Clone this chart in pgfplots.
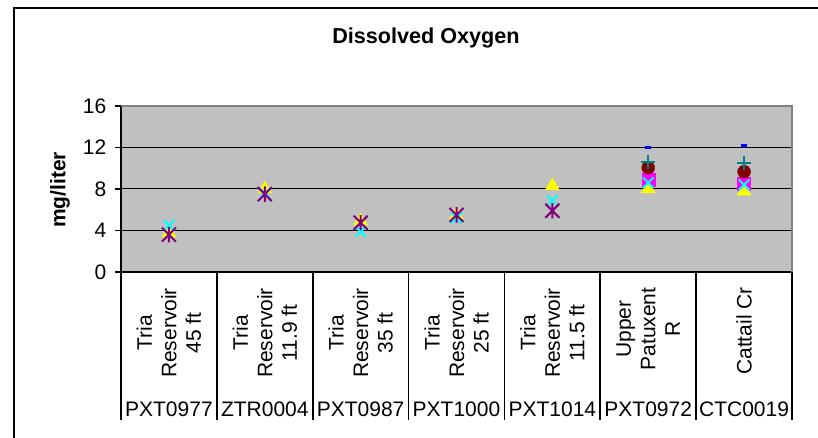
\documentclass[border=0pt]{standalone}
\usepackage{fontspec}
\setmainfont{Liberation Sans}
\usepackage{pgfplots}
\pgfplotsset{compat=1.18}
\definecolor{bggray}{RGB}{192,192,192}
\definecolor{edgegray}{RGB}{128,128,128}
\definecolor{xlpurple}{RGB}{128,0,128}
\definecolor{xldarkred}{RGB}{128,0,0}
\definecolor{xlteal}{RGB}{0,128,128}
\definecolor{xlmagenta}{RGB}{255,0,255}
\definecolor{xlcyan}{RGB}{0,255,255}
\definecolor{xlyellow}{RGB}{255,255,0}
\definecolor{xlblue}{RGB}{0,0,255}
\pgfdeclareplotmark{xstar}{%
  \pgfpathmoveto{\pgfqpoint{-\pgfplotmarksize}{-\pgfplotmarksize}}%
  \pgfpathlineto{\pgfqpoint{\pgfplotmarksize}{\pgfplotmarksize}}%
  \pgfpathmoveto{\pgfqpoint{-\pgfplotmarksize}{\pgfplotmarksize}}%
  \pgfpathlineto{\pgfqpoint{\pgfplotmarksize}{-\pgfplotmarksize}}%
  \pgfpathmoveto{\pgfqpoint{0pt}{-1.1\pgfplotmarksize}}%
  \pgfpathlineto{\pgfqpoint{0pt}{1.1\pgfplotmarksize}}%
  \pgfusepathqstroke}
\newcommand{\lbl}{\fontsize{21bp}{24.5bp}\selectfont}
\begin{document}
\begin{tikzpicture}[x=1bp,y=1bp]
\useasboundingbox (0,0) rectangle (818,438);
\draw[line width=2bp] (14,0) -- (14,430) -- (818,430);
\node[font=\fontsize{21.6bp}{25bp}\selectfont\bfseries] at (426,400) {Dissolved Oxygen};
\node[font=\lbl\bfseries, rotate=90] at (60,248) {mg/liter};
\begin{axis}[
  at={(121bp,166bp)}, anchor=south west,
  width=671bp, height=166bp, scale only axis,
  xmin=0, xmax=7, ymin=0, ymax=16,
  axis x line*=bottom, axis y line*=left,
  axis line style={-, black, line width=2bp},
  axis background/.style={fill=bggray},
  xtick={0,1,...,7}, xticklabels={},
  ytick={0,4,...,16},
  tick align=outside,
  xtick style={black, line width=1.6bp, /pgfplots/major tick length=148bp},
  ytick style={black, line width=1.2bp, /pgfplots/major tick length=6bp},
  ymajorgrids, grid style={black, line width=1bp},
  ticklabel style={font=\lbl},
  /pgf/number format/assume math mode=true,
  yticklabel style={xshift=-7bp},
  clip=false,
]
\addplot[only marks, mark=square*, mark size=6.5bp, color=xlmagenta] coordinates {(5.5,8.85) (6.5,8.5)};
\addplot[only marks, mark=triangle*, mark size=8bp, color=xlyellow] coordinates {(0.5,3.75) (1.5,8.0) (2.5,4.9) (3.5,5.5) (4.5,8.3) (5.5,8.0) (6.5,7.8)};
\addplot[only marks, mark=x, mark size=7.5bp, line width=2bp, color=xlcyan] coordinates {(0.5,4.5) (1.5,7.6) (2.5,3.9) (3.5,5.2) (4.5,6.9) (5.5,8.6) (6.5,8.4)};
\addplot[only marks, mark=xstar, mark size=7bp, line width=2bp, color=xlpurple] coordinates {(0.5,3.6) (1.5,7.5) (2.5,4.75) (3.5,5.5) (4.5,5.9)};
\addplot[only marks, mark=*, mark size=6.5bp, color=xldarkred] coordinates {(5.5,10.05) (6.5,9.67)};
\addplot[only marks, mark=+, mark size=7bp, line width=2bp, color=xlteal] coordinates {(5.5,10.6) (6.5,10.55)};
\addplot[only marks, mark=-, mark size=2.8bp, line width=3bp, color=xlblue] coordinates {(5.5,12.0) (6.5,12.2)};
\draw[edgegray, line width=2bp] (rel axis cs:0,1) -- (rel axis cs:1,1) -- (rel axis cs:1,0);
\node[font=\lbl, rotate=90, align=center] at ([yshift=-61bp]axis cs:0.5,0) {Tria\\Reservoir\\45 ft};
\node[font=\lbl, rotate=90, align=center] at ([yshift=-61bp]axis cs:1.5,0) {Tria\\Reservoir\\11.9 ft};
\node[font=\lbl, rotate=90, align=center] at ([yshift=-61bp]axis cs:2.5,0) {Tria\\Reservoir\\35 ft};
\node[font=\lbl, rotate=90, align=center] at ([yshift=-61bp]axis cs:3.5,0) {Tria\\Reservoir\\25 ft};
\node[font=\lbl, rotate=90, align=center] at ([yshift=-61bp]axis cs:4.5,0) {Tria\\Reservoir\\11.5 ft};
\node[font=\lbl, rotate=90, align=center] at ([yshift=-57bp]axis cs:5.5,0) {Upper\\Patuxent\\R};
\node[font=\lbl, rotate=90, align=center] at ([yshift=-59bp]axis cs:6.5,0) {Cattail Cr};
\node[font=\lbl] at ([yshift=-137bp]axis cs:0.5,0) {PXT0977};
\node[font=\lbl] at ([yshift=-137bp]axis cs:1.5,0) {ZTR0004};
\node[font=\lbl] at ([yshift=-137bp]axis cs:2.5,0) {PXT0987};
\node[font=\lbl] at ([yshift=-137bp]axis cs:3.5,0) {PXT1000};
\node[font=\lbl] at ([yshift=-137bp]axis cs:4.5,0) {PXT1014};
\node[font=\lbl] at ([yshift=-137bp]axis cs:5.5,0) {PXT0972};
\node[font=\lbl] at ([yshift=-137bp]axis cs:6.5,0) {CTC0019};
\end{axis}
\end{tikzpicture}
\end{document}
